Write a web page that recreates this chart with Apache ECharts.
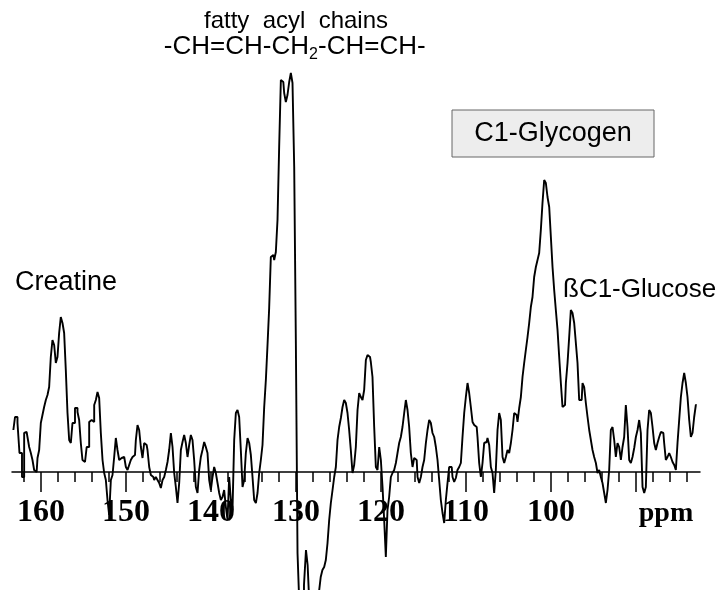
<!DOCTYPE html>
<html>
<head>
<meta charset="utf-8">
<script src="https://cdn.jsdelivr.net/npm/echarts@6/dist/echarts.min.js"></script>
<style>
  html, body { margin: 0; padding: 0; background: #fff; }
  #main { width: 718px; height: 590px; }
</style>
</head>
<body>
<div id="main"></div>
<script>
// chemical shift (ppm)
const ppm = [
  163.25,162.86,162.67,162.39,162.08,161.88,161.69,161.49,161.29,161.10,160.90,160.71,160.51,160.31,160.12,
  159.92,159.73,159.53,159.33,159.14,158.94,158.75,158.55,158.35,158.16,157.96,157.77,157.57,157.37,157.18,
  156.98,156.78,156.59,156.39,156.20,155.80,155.61,155.41,155.22,155.02,154.82,
  154.43,154.23,154.04,153.84,153.64,153.45,153.25,153.06,152.86,152.66,152.47,152.27,152.08,151.88,151.68,
  151.49,151.29,151.10,150.90,150.70,150.51,150.31,150.11,149.92,149.72,149.53,149.33,149.13,148.94,148.74,
  148.55,148.35,148.15,147.96,147.76,147.57,147.37,147.17,146.98,146.78,146.59,146.39,146.19,146.00,145.80,
  145.60,145.41,145.21,145.02,144.82,144.62,
  144.43,144.23,144.04,143.84,143.64,143.45,143.25,143.06,142.86,142.66,142.47,142.27,142.08,141.88,141.68,
  141.49,141.29,141.10,140.90,140.70,140.51,140.31,140.11,139.92,139.72,139.53,139.33,139.13,138.94,138.74,
  138.55,138.35,138.15,137.96,137.76,137.57,137.37,137.17,136.98,136.78,136.59,136.39,136.19,136.00,135.80,
  135.60,135.41,135.21,135.02,134.82,134.62,134.43,
  134.23,134.04,133.84,133.64,133.45,133.25,133.06,132.86,132.66,132.47,132.27,132.08,131.88,131.68,131.49,
  131.29,131.10,130.90,130.70,130.51,130.31,130.11,129.92,129.72,
  129.53,129.18,128.94,128.71,128.55,128.35,128.00,127.65,127.41,127.18,127.00,126.78,126.59,126.39,126.19,
  126.00,125.80,125.60,125.41,125.21,125.02,124.82,124.62,124.43,124.23,
  124.04,123.84,123.65,123.45,123.25,123.06,122.86,122.66,122.47,122.27,122.08,121.88,121.68,121.49,121.29,
  121.10,120.90,120.70,120.51,120.31,120.11,119.92,119.72,119.53,119.33,119.14,118.94,118.74,118.55,118.35,
  118.15,117.96,117.76,117.57,117.37,117.17,116.98,116.78,116.59,116.39,116.19,116.00,115.80,115.60,115.41,
  115.21,115.02,114.82,114.62,114.43,114.23,114.04,113.84,113.64,113.45,113.25,113.06,112.86,112.66,112.47,
  112.27,112.08,111.88,
  111.68,111.49,111.29,111.10,110.90,110.70,110.51,110.31,110.11,109.92,109.72,109.53,109.33,109.13,108.94,
  108.74,108.55,108.35,108.15,107.96,107.76,107.57,107.37,107.17,106.98,106.78,106.59,106.39,106.19,106.00,
  105.80,105.60,105.41,105.21,105.02,104.82,104.62,104.43,
  104.23,104.04,103.84,103.64,103.45,103.25,103.06,102.86,102.66,102.47,102.27,102.08,101.88,101.68,101.49,
  101.29,101.10,100.90,100.70,100.51,100.31,100.11,99.92,99.72,99.53,99.33,99.13,98.94,98.74,98.55,
  98.35,98.15,97.96,97.76,97.57,97.37,97.17,96.98,96.78,96.59,96.39,96.19,96.00,95.80,95.60,
  95.41,95.21,95.02,94.82,94.62,94.43,94.23,
  94.04,93.84,93.64,93.45,93.25,93.06,92.86,92.66,92.47,92.27,92.08,91.88,91.68,91.49,91.29,
  91.10,90.90,90.70,90.51,90.31,90.11,89.92,89.72,89.53,89.33,89.13,88.94,88.74,88.55,88.35,
  88.15,87.96,87.76,87.57,87.37,87.17,86.98,86.78,86.59,86.39,86.19,86.00,85.80,85.60,85.41,
  85.21,85.02,84.82,84.62,84.43,84.23,84.04,83.84,83.64,83.45,83.25,83.06,82.86
];

// signal intensity (arbitrary units)
const intensity = [
  42,55,49,19,-5,39,40,35,25,19,12,2,0,14,22,
  49,57,65,72,77,85,115,132,127,109,115,139,155,149,139,
  102,59,32,29,49,64,60,52,29,12,10,
  25,50,52,50,67,72,80,74,39,12,-1,-8,-28,-43,-8,
  -3,15,34,22,12,14,15,17,5,2,7,12,15,17,32,
  47,42,25,14,29,27,22,5,-3,-5,-8,-5,-8,-11,-16,
  -8,-5,2,10,22,39,
  25,-1,-15,-31,-11,22,30,37,29,15,27,37,32,12,-15,
  -21,2,15,22,30,25,19,-8,-18,-5,5,-1,-11,-21,-28,
  -25,-18,-35,-48,-5,-28,-38,32,59,62,55,22,-15,-8,19,
  34,29,17,-5,-28,-31,-21,
  -1,12,27,65,92,127,164,215,217,212,220,252,325,392,390,
  379,370,377,390,399,389,305,129,-81,
  -128,-130,-113,-78,-93,-128,-140,-140,-130,-120,-105,-98,-95,-88,-71,
  -48,-31,-18,-5,5,32,45,54,65,72,
  69,59,42,22,-1,7,25,62,79,75,72,82,112,117,115,
  110,95,45,5,2,25,12,-15,-48,-85,-38,-25,-5,-1,2,
  9,19,29,35,45,59,72,62,45,19,5,14,12,-5,-11,
  -5,5,12,29,42,52,49,39,35,25,12,-8,-28,-41,-51,
  -28,-11,5,
  5,-5,-10,-6,2,5,9,35,59,75,89,79,65,50,47,
  45,35,9,-5,9,29,30,34,27,5,-1,-21,2,42,59,
  52,15,9,15,22,19,29,42,
  59,57,50,64,75,95,109,122,135,149,165,175,195,205,212,
  219,242,269,292,289,275,265,235,205,182,162,142,115,89,65,
  67,89,109,135,162,159,149,129,109,72,72,89,85,69,55,
  42,32,22,15,9,-1,2,
  -5,-11,-21,-31,-18,2,42,45,32,15,29,25,12,25,35,
  67,45,12,9,15,24,35,42,52,39,-15,-21,-15,42,62,
  59,45,29,22,29,35,40,39,29,12,15,19,15,10,7,
  2,29,52,75,89,99,89,75,52,35,39,55,67
];

const minorTicks = [162,160,158,156,154,152,150,148,146,144,142,140,138,136,134,132,130,128,126,124,122,120,118,116,114,112,110,108,106,104,102,100,98,96,94,92,90,88,86,84];
const majorTicks = [160,150,140,130,120,110,100,90];
const tickLabels = [160,150,140,130,120,110,100];

const chart = echarts.init(document.getElementById('main'));
const spectrum = ppm.map((p, i) => [p, intensity[i]]);

const labelFont = '"Liberation Sans", Arial, sans-serif';
const serifBold = '"Liberation Serif", "Times New Roman", serif';

// grid bottom is the zero line; the negative part of the trace is drawn below it (clip off)
chart.setOption({
  backgroundColor: '#fff',
  animation: false,
  grid: { left: 12, right: 18, top: 0, bottom: 118, containLabel: false, outerBoundsMode: 'none' },
  xAxis: [
    {
      type: 'value',
      position: 'bottom',
      inverse: true,
      min: 82.47,
      max: 163.41,
      splitLine: { show: false },
      axisLine: { show: true, onZero: false, lineStyle: { color: '#000', width: 1.5 } },
      axisTick: { show: true, customValues: minorTicks, length: 10, lineStyle: { color: '#000', width: 1.5 } },
      axisLabel: {
        show: true,
        customValues: tickLabels,
        margin: 25,
        color: '#000',
        fontFamily: serifBold,
        fontWeight: 'bold',
        fontSize: 32,
        formatter: v => String(v)
      }
    },
    {
      type: 'value',
      position: 'bottom',
      inverse: true,
      min: 82.47,
      max: 163.41,
      splitLine: { show: false },
      axisLine: { show: false, onZero: false },
      axisTick: { show: true, customValues: majorTicks, length: 20, lineStyle: { color: '#000', width: 1.5 } },
      axisLabel: { show: false }
    }
  ],
  yAxis: {
    type: 'value',
    min: 0,
    max: 472,
    show: false,
    splitLine: { show: false }
  },
  series: [
    {
      type: 'line',
      xAxisIndex: 0,
      data: spectrum,
      step: 'middle',
      showSymbol: false,
      clip: false,
      lineStyle: { color: '#000', width: 1.9 }
    }
  ],
  graphic: [
    { type: 'text', x: 296, y: 21, style: { text: 'fatty  acyl  chains', font: '24px ' + labelFont, fill: '#000', align: 'center', verticalAlign: 'middle' } },
    { type: 'text', x: 309, y: 47, style: { text: '-CH=CH-CH', font: '26px ' + labelFont, fill: '#000', align: 'right', verticalAlign: 'middle' } },
    { type: 'text', x: 309, y: 55, style: { text: '2', font: '16px ' + labelFont, fill: '#000', align: 'left', verticalAlign: 'middle' } },
    { type: 'text', x: 318, y: 47, style: { text: '-CH=CH-', font: '26px ' + labelFont, fill: '#000', align: 'left', verticalAlign: 'middle' } },
    { type: 'rect', shape: { x: 452, y: 110, width: 202, height: 47 }, style: { fill: '#ededed', stroke: '#666', lineWidth: 1 } },
    { type: 'text', x: 553, y: 134, style: { text: 'C1-Glycogen', font: '27px ' + labelFont, fill: '#000', align: 'center', verticalAlign: 'middle' } },
    { type: 'text', x: 15, y: 283, style: { text: 'Creatine', font: '27px ' + labelFont, fill: '#000', align: 'left', verticalAlign: 'middle' } },
    { type: 'text', x: 563, y: 290, style: { text: 'ßC1-Glucose', font: '26px ' + labelFont, fill: '#000', align: 'left', verticalAlign: 'middle' } },
    { type: 'text', x: 666, y: 514, style: { text: 'ppm', font: 'bold 28px ' + serifBold, fill: '#000', align: 'center', verticalAlign: 'middle' } }
  ]
});
</script>
</body>
</html>
